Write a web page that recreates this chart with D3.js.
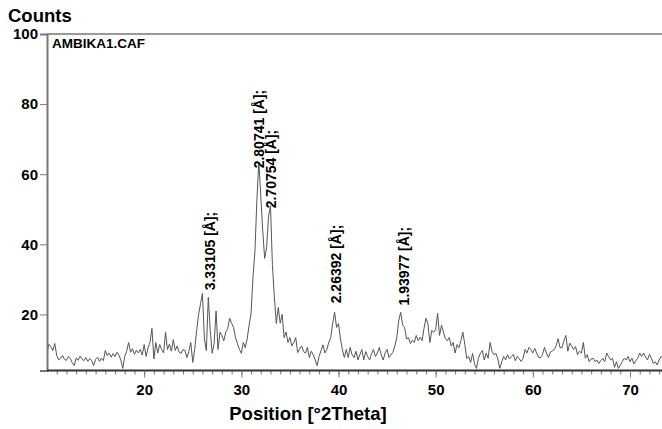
<!DOCTYPE html>
<html>
<head>
<meta charset="utf-8">
<script src="https://cdn.jsdelivr.net/npm/d3@7"></script>
<style>
	body { margin: 0; background: #fff; }
	text { font-family: "Liberation Sans", Arial, sans-serif; font-weight: bold; }
</style>
</head>
<body>
<div id="wrapper"></div>
<script>
// scan settings: first angle and step in degrees 2Theta
const startAngle = 10;
const stepAngle = 0.2;

// counts, one row = 2 degrees
const counts = [
	9.1, 11.5, 10.8, 9.7, 11.7, 8.3, 7.0, 7.5, 8.3, 7.2,     // 10
	6.9, 8.0, 7.4, 6.2, 5.4, 7.6, 6.9, 8.1, 7.3, 6.8,        // 12
	7.7, 6.6, 7.4, 6.8, 5.4, 7.2, 7.8, 6.6, 7.5, 6.8,        // 14
	9.7, 8.2, 9.0, 7.8, 8.8, 8.0, 9.2, 8.4, 7.0, 4.6,        // 16
	8.0, 9.5, 12.0, 9.2, 10.2, 8.6, 9.8, 9.0, 10.0, 8.4,     // 18
	11.4, 8.0, 10.5, 12.0, 16.0, 7.3, 12.0, 9.0, 11.4, 10.0, // 20
	9.0, 14.9, 10.0, 11.5, 9.5, 12.8, 9.7, 11.0, 9.2, 8.9,   // 22
	10.0, 9.7, 7.7, 9.5, 12.0, 6.3, 10.0, 15.4, 20.0, 23.0,  // 24
	26.0, 13.0, 9.7, 24.9, 15.5, 8.9, 11.7, 21.0, 10.0, 14.9,// 26
	14.0, 12.5, 15.0, 16.0, 18.9, 17.5, 16.3, 13.4, 11.7, 10.0, // 28
	8.9, 12.0, 10.5, 13.0, 16.9, 20.3, 30.6, 38.0, 52.6, 63.5,  // 30
	54.0, 44.0, 36.0, 39.0, 48.0, 51.0, 34.0, 25.0, 17.4, 22.0, // 32
	17.5, 20.0, 13.4, 15.0, 12.0, 13.4, 11.0, 12.0, 13.4, 9.1,  // 34
	10.2, 11.0, 9.5, 8.9, 10.6, 7.7, 9.5, 8.5, 7.0, 5.4,     // 36
	8.0, 9.7, 11.3, 9.0, 10.0, 12.0, 13.4, 17.4, 20.6, 16.3, // 38
	17.4, 13.0, 10.0, 7.7, 10.0, 7.7, 10.6, 8.5, 7.7, 9.5,   // 40
	7.0, 8.5, 10.0, 7.0, 9.4, 8.0, 7.0, 8.8, 10.0, 8.0,      // 42
	9.0, 10.6, 8.5, 7.0, 9.0, 10.0, 7.7, 8.5, 9.2, 11.0,     // 44
	13.4, 18.3, 20.6, 17.0, 16.3, 13.0, 13.4, 11.7, 12.6, 12.0, // 46
	14.0, 12.5, 13.5, 12.5, 16.0, 18.9, 17.4, 12.0, 15.4, 14.9, // 48
	15.7, 20.3, 14.0, 16.9, 15.0, 13.0, 12.5, 13.4, 11.0, 12.0, // 50
	9.0, 11.4, 10.5, 12.5, 14.9, 11.4, 7.4, 8.0, 6.3, 8.9,   // 52
	5.9, 4.6, 7.5, 8.9, 9.7, 7.0, 8.9, 7.5, 12.0, 9.5,       // 54
	8.5, 8.9, 7.3, 4.6, 6.5, 8.0, 7.0, 8.5, 7.3, 8.0,        // 56
	8.6, 6.8, 8.0, 7.3, 6.6, 7.5, 10.0, 9.0, 10.6, 10.0,     // 58
	9.0, 10.3, 8.9, 7.7, 7.7, 8.6, 10.6, 9.0, 7.7, 9.2,      // 60
	9.6, 10.0, 11.1, 13.1, 10.5, 10.5, 12.5, 14.0, 9.5, 11.8,// 62
	11.0, 10.0, 10.8, 8.5, 9.5, 9.0, 12.0, 7.5, 8.5, 6.5,    // 64
	7.3, 7.5, 6.5, 7.0, 6.0, 6.8, 7.5, 6.5, 9.0, 8.0,        // 66
	7.0, 7.5, 4.9, 6.5, 4.6, 5.5, 6.5, 7.5, 7.0, 8.0,        // 68
	6.5, 7.5, 5.9, 6.8, 7.5, 9.0, 8.0, 9.0, 7.8, 7.0,        // 70
	8.6, 7.5, 6.0, 6.5, 5.6, 7.0, 8.0, 7.5                   // 72
];

// peak list
const peakPositions = [26.74, 31.85, 33.06, 39.78, 46.79];
const peakCounts = [26.3, 61.1, 49.7, 22.6, 22.0];
const peakLabels = ["3.33105 [Å];", "2.80741 [Å];", "2.70754 [Å];", "2.26392 [Å];", "1.93977 [Å];"];

const xTicks = [20, 30, 40, 50, 60, 70];
const yTicks = [20, 40, 60, 80, 100];

const width = 662;
const height = 429;

const svg = d3.select("#wrapper")
	.append("svg")
	.attr("width", width)
	.attr("height", height);

const x = d3.scaleLinear()
	.domain([10, 70])
	.range([47, 630]);

const y = d3.scaleLinear()
	.domain([4, 100])
	.range([370.5, 34]);

const right = width; // plot runs past the window edge

svg.append("clipPath").attr("id", "plotclip")
	.append("rect")
	.attr("x", 47).attr("y", 34)
	.attr("width", right - 47).attr("height", 370.5 - 34);

// trace
const line = d3.line()
	.x((d, i) => x(startAngle + i * stepAngle))
	.y(d => y(d));

svg.append("path")
	.datum(counts)
	.attr("clip-path", "url(#plotclip)")
	.attr("d", line)
	.attr("fill", "none")
	.attr("stroke", "#555")
	.attr("stroke-width", 1);

// top frame line
svg.append("line")
	.attr("x1", 47).attr("x2", right)
	.attr("y1", 34).attr("y2", 34)
	.attr("stroke", "#777").attr("stroke-width", 1.5);

// y axis
const yAxis = svg.append("g")
	.attr("transform", "translate(47,0)")
	.call(d3.axisLeft(y).tickValues(yTicks).tickSize(7).tickPadding(2));
yAxis.select(".domain").attr("stroke", "#777").attr("stroke-width", 2);
yAxis.selectAll(".tick line").attr("stroke", "#777");
yAxis.selectAll("text")
	.attr("font-size", 15)
	.attr("fill", "#000");

// x axis, minor ticks then major
const xMinor = svg.append("g")
	.attr("transform", "translate(0,370.5)")
	.call(d3.axisBottom(x).tickValues(d3.range(11, 74)).tickSize(4).tickFormat(""));
xMinor.select(".domain").remove();
xMinor.selectAll(".tick line").attr("stroke", "#777");

const xAxis = svg.append("g")
	.attr("transform", "translate(0,370.5)")
	.call(d3.axisBottom(x).tickValues(xTicks).tickSize(7).tickPadding(7));
xAxis.select(".domain")
	.attr("d", `M47,0H${right}`)
	.attr("stroke", "#333").attr("stroke-width", 2);
xAxis.selectAll(".tick line").attr("stroke", "#777");
xAxis.selectAll("text")
	.attr("font-size", 15)
	.attr("fill", "#000");

// peak labels
svg.selectAll(".peak")
	.data(peakLabels)
	.enter().append("text")
	.attr("class", "peak")
	.attr("transform", (d, i) => `translate(${x(peakPositions[i])},${y(peakCounts[i]) - 2}) rotate(-90)`)
	.attr("dy", "0.35em")
	.attr("font-size", 14)
	.text(d => d);

// titles
svg.append("text")
	.attr("x", 8).attr("y", 22)
	.attr("font-size", 18.5)
	.text("Counts");

svg.append("text")
	.attr("x", 52).attr("y", 48)
	.attr("font-size", 13.5)
	.text("AMBIKA1.CAF");

svg.append("text")
	.attr("x", 308).attr("y", 420)
	.attr("text-anchor", "middle")
	.attr("font-size", 18.5)
	.text("Position [°2Theta]");
</script>
</body>
</html>
